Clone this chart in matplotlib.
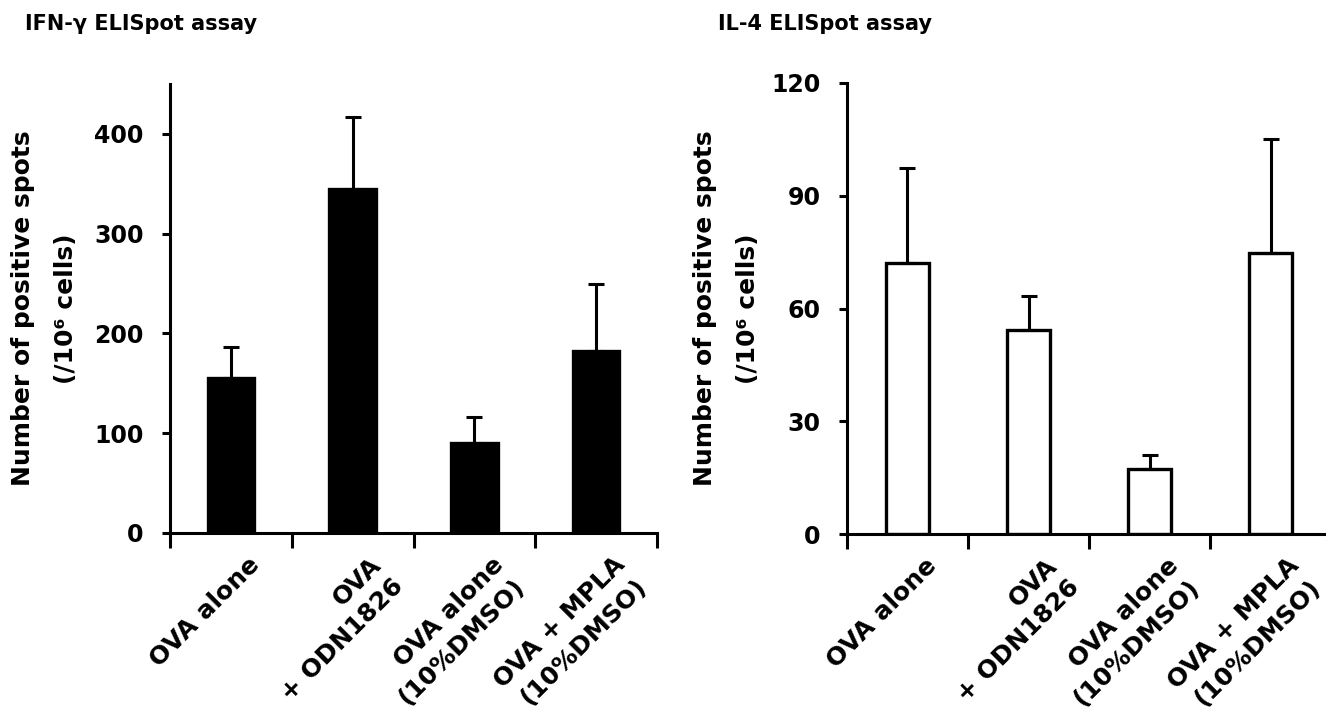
import matplotlib
matplotlib.use("Agg")
import matplotlib.pyplot as plt
from matplotlib.transforms import ScaledTranslation, blended_transform_factory

# groups on the x axis (same for both assays)
groups = ["OVA alone", "OVA\n+ ODN1826", "OVA alone\n(10%DMSO)", "OVA + MPLA\n(10%DMSO)"]

# IFN-gamma ELISpot: mean and upper error
ifn_mean = [155, 345, 90, 182]
ifn_err = [31, 72, 26, 68]
ifn_ticks = [0, 100, 200, 300, 400]

# IL-4 ELISpot: mean and upper error
il4_mean = [72, 54.4, 17.3, 74.8]
il4_err = [25.4, 8.9, 3.6, 30.2]
il4_ticks = [0, 30, 60, 90, 120]

plt.rcParams['font.family'] = ['DejaVu Sans']
plt.rcParams['font.weight'] = 'bold'

W, H = 1326, 719
fig = plt.figure(figsize=(W / 100, H / 100), dpi=100)
ax1 = fig.add_axes([170 / W, 186 / H, 487 / W, 449 / H])
ax2 = fig.add_axes([847 / W, 185 / H, 484 / W, 451 / H])


def draw_panel(ax, means, errs, ticks, ymax, face, width, label_x):
    x = list(range(len(groups)))
    ax.bar(x, means, width=width, color=face, edgecolor='black', linewidth=2.4, zorder=2)
    ax.errorbar(x, means, yerr=[[0] * len(errs), errs], fmt='none', ecolor='black',
                elinewidth=2.2, capsize=6, capthick=2.2, zorder=3)

    ax.set_xlim(-0.5, len(groups) - 0.5)
    ax.set_ylim(0, ymax)
    ax.spines[['top', 'right']].set_visible(False)
    for s in ['left', 'bottom']:
        ax.spines[s].set_linewidth(2.2)

    # category separators as ticks on the x axis
    ax.set_xticks([i - 0.5 for i in range(len(groups) + 1)])
    ax.tick_params(axis='x', length=11, width=2.2, labelbottom=False)
    ax.set_yticks(ticks)
    ax.tick_params(axis='y', length=6, width=2.2, labelsize=17, pad=13)

    # rotated group labels, right aligned
    trans = blended_transform_factory(ax.transData, ax.transAxes) + \
        ScaledTranslation(12 / 72, -14 / 72, fig.dpi_scale_trans)
    for i, lab in enumerate(groups):
        ax.text(i, 0, lab, transform=trans, rotation=45, rotation_mode='anchor',
                ha='right', va='top', fontsize=18, fontweight='bold', linespacing=1.35)

    ax.set_ylabel("Number of positive spots\n(/10\u2076 cells)", fontsize=18,
                  fontweight='bold', linespacing=2.0)
    ax.yaxis.set_label_coords(label_x, 0.5)


draw_panel(ax1, ifn_mean, ifn_err, ifn_ticks, 450, 'black', 0.38, -0.189)
draw_panel(ax2, il4_mean, il4_err, il4_ticks, 120, 'white', 0.35, -0.18)

fig.text(25 / W, 1 - 30 / H, "IFN-\u03b3 ELISpot assay", fontsize=15, fontweight='bold',
         ha='left', va='baseline')
fig.text(718 / W, 1 - 30 / H, "IL-4 ELISpot assay", fontsize=15, fontweight='bold',
         ha='left', va='baseline')

fig.savefig("out.png", dpi=100)
